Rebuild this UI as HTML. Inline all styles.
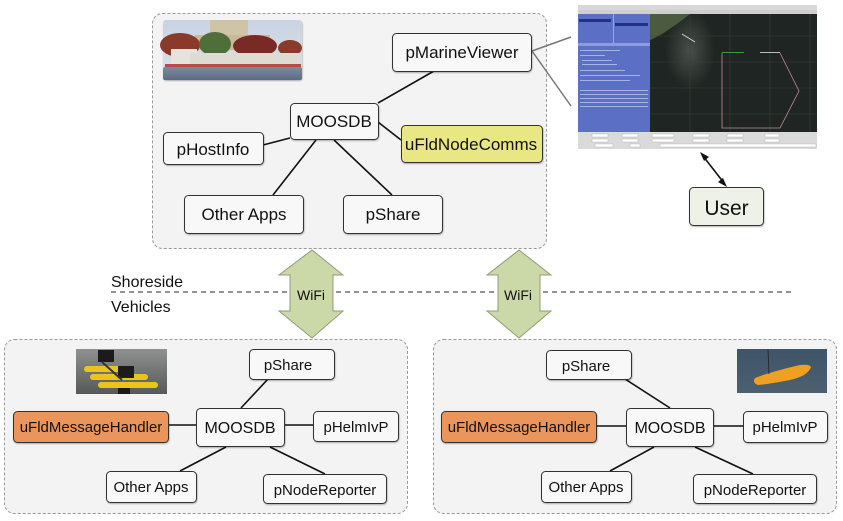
<!DOCTYPE html>
<html><head><meta charset="utf-8"><style>
html,body{margin:0;padding:0;background:#fff;}
svg{display:block;}
text{font-family:"Liberation Sans","DejaVu Sans",sans-serif;fill:#111;}
</style></head><body>
<svg width="843" height="521" viewBox="0 0 843 521" xmlns="http://www.w3.org/2000/svg">
<defs>
<filter id="sh" x="-10%" y="-10%" width="130%" height="140%"><feDropShadow dx="0.5" dy="1" stdDeviation="0.8" flood-color="#000" flood-opacity="0.3"/></filter>
<linearGradient id="sky" x1="0" y1="0" x2="0" y2="1"><stop offset="0" stop-color="#c9d3e2"/><stop offset="1" stop-color="#dde2ea"/></linearGradient>
<linearGradient id="water" x1="0" y1="0" x2="0" y2="1"><stop offset="0" stop-color="#7d8aa0"/><stop offset="1" stop-color="#5d6c86"/></linearGradient>
<linearGradient id="gw" x1="0" y1="0" x2="0" y2="1"><stop offset="0" stop-color="#8f9191"/><stop offset="1" stop-color="#575959"/></linearGradient>
<linearGradient id="bw" x1="0" y1="0" x2="0" y2="1"><stop offset="0" stop-color="#3e5468"/><stop offset="1" stop-color="#4c6070"/></linearGradient>
<radialGradient id="haze" cx="0.5" cy="0.5" r="0.5"><stop offset="0" stop-color="#5a625c" stop-opacity="0.7"/><stop offset="1" stop-color="#5a625c" stop-opacity="0"/></radialGradient>
</defs>

<!-- group boxes -->
<rect x="152.5" y="13.5" width="394" height="235" rx="10" fill="#f3f3f3" stroke="#999" stroke-dasharray="3,2"/>
<rect x="4.5" y="339.5" width="403" height="174" rx="10" fill="#f3f3f3" stroke="#999" stroke-dasharray="3,2"/>
<rect x="433.5" y="339.5" width="403" height="174" rx="10" fill="#f3f3f3" stroke="#999" stroke-dasharray="3,2"/>

<!-- top photo -->
<g filter="url(#sh)">
<rect x="163" y="20" width="139" height="60" rx="3" fill="url(#sky)"/>
</g>
<rect x="210" y="20" width="38" height="20" fill="#cfc3a8"/>
<rect x="195" y="35" width="75" height="15" fill="#c6b99c"/>
<ellipse cx="180" cy="45" rx="20" ry="12" fill="#8a3a2a"/>
<ellipse cx="215" cy="44" rx="16" ry="12" fill="#4f6e3a"/>
<ellipse cx="255" cy="46" rx="22" ry="11" fill="#7a2a24"/>
<ellipse cx="290" cy="48" rx="12" ry="8" fill="#8a3a2a"/>
<rect x="171" y="49" width="26" height="18" fill="#e5e3dc"/>
<rect x="190" y="53" width="110" height="13" fill="#dedbd2"/>
<rect x="165" y="64" width="136" height="3" fill="#b84a4a"/>
<rect x="163" y="67" width="139" height="13" rx="2" fill="url(#water)"/>

<!-- connectors top -->
<g stroke="#111" stroke-width="1.6" fill="none">
<line x1="434" y1="71" x2="378" y2="103"/>
<line x1="290" y1="138" x2="263" y2="145"/>
<line x1="378" y1="122" x2="401" y2="140"/>
<line x1="316" y1="140" x2="273" y2="195"/>
<line x1="334" y1="140" x2="392" y2="195"/>
</g>
<g stroke="#777" stroke-width="1.5">
<line x1="532" y1="51" x2="571" y2="37"/>
<line x1="532" y1="51" x2="571" y2="106"/>
</g>

<!-- top nodes -->
<g filter="url(#sh)" stroke="#333" stroke-width="1">
<rect x="392.5" y="33.5" width="139" height="38" rx="4" fill="#f8f8f8"/>
<rect x="290.5" y="103.5" width="88" height="36" rx="4" fill="#f8f8f8"/>
<rect x="163.5" y="132.5" width="100" height="32" rx="4" fill="#f8f8f8"/>
<rect x="401.5" y="125.5" width="141" height="37" rx="4" fill="#e8e784"/>
<rect x="184.5" y="195.5" width="119" height="38" rx="4" fill="#f8f8f8"/>
<rect x="343.5" y="195.5" width="99" height="38" rx="4" fill="#f8f8f8"/>
</g>
<g font-size="17" text-anchor="middle">
<text x="462" y="58">pMarineViewer</text>
<text x="334" y="127">MOOSDB</text>
<text x="213" y="155">pHostInfo</text>
<text x="471" y="150">uFldNodeComms</text>
<text x="244" y="220">Other Apps</text>
<text x="393" y="220">pShare</text>
</g>

<!-- screenshot -->
<g>
<rect x="578" y="5" width="239" height="144" fill="#e4e4e4"/>
<rect x="578" y="5" width="239" height="5" fill="#d8d8d8"/>
<rect x="578" y="10" width="239" height="4" fill="#cfcfcf"/>
<rect x="578" y="14" width="72" height="118" fill="#5b6fc4"/>
<rect x="578" y="43" width="72" height="3" fill="#8d9be0"/>
<rect x="613" y="14" width="1" height="29" fill="#9aa6e4"/>
<rect x="579" y="19" width="32" height="3" fill="#22308a"/>
<rect x="615" y="23" width="33" height="3" fill="#22308a"/>
<g fill="#c9d0f2" opacity="0.7">
<rect x="580" y="50" width="40" height="1"/><rect x="580" y="55" width="25" height="1"/><rect x="582" y="60" width="30" height="1"/>
<rect x="582" y="64" width="35" height="1"/><rect x="580" y="70" width="45" height="1"/><rect x="580" y="75" width="60" height="1"/>
<rect x="580" y="80" width="50" height="1"/><rect x="580" y="90" width="68" height="1"/><rect x="580" y="94" width="68" height="1"/>
<rect x="580" y="98" width="68" height="1"/><rect x="580" y="102" width="68" height="1"/><rect x="580" y="106" width="68" height="1"/>
</g>
<rect x="650" y="14" width="167" height="118" fill="#1f2522"/>
<ellipse cx="690" cy="50" rx="25" ry="40" fill="url(#haze)"/>
<path d="M650 14 L690 14 Q680 22 668 30 Q660 36 650 40 Z" fill="#4c5a40"/>
<g stroke="#3a423e" stroke-width="0.6">
<line x1="650" y1="36" x2="817" y2="36"/><line x1="650" y1="62" x2="817" y2="62"/><line x1="650" y1="88" x2="817" y2="88"/><line x1="650" y1="114" x2="817" y2="114"/>
<line x1="690" y1="14" x2="690" y2="132"/><line x1="730" y1="14" x2="730" y2="132"/><line x1="770" y1="14" x2="770" y2="132"/><line x1="810" y1="14" x2="810" y2="132"/>
</g>
<polyline points="722,53 722,128 780,128 799,91 780,53" fill="none" stroke="#c98a9a" stroke-width="0.8"/>
<line x1="682" y1="34" x2="695" y2="42" stroke="#ddd" stroke-width="0.8"/>
<rect x="722" y="52" width="22" height="1" fill="#3c9a3c"/>
<rect x="760" y="52" width="20" height="1" fill="#bbb"/>
<rect x="578" y="132" width="239" height="17" fill="#dadada"/>
<g fill="#fff" stroke="#aaa" stroke-width="0.4">
<rect x="592" y="134" width="16" height="3"/><rect x="622" y="134" width="16" height="3"/><rect x="652" y="134" width="22" height="3"/><rect x="693" y="134" width="16" height="3"/><rect x="727" y="134" width="16" height="3"/><rect x="765" y="134" width="14" height="3"/>
<rect x="592" y="139" width="16" height="3"/><rect x="622" y="139" width="16" height="3"/><rect x="652" y="139" width="22" height="3"/><rect x="693" y="139" width="16" height="3"/><rect x="727" y="139" width="16" height="3"/><rect x="765" y="139" width="14" height="3"/>
<rect x="595" y="144" width="18" height="3"/><rect x="630" y="144" width="10" height="3"/><rect x="660" y="144" width="156" height="3"/>
</g>
</g>

<!-- user -->
<g stroke="#111" stroke-width="1.6" fill="#111">
<line x1="703" y1="156" x2="724" y2="183"/>
<polygon points="700,152 709,157 704,161" stroke="none"/>
<polygon points="727,187 718,182 723,178" stroke="none"/>
</g>
<rect x="689.5" y="187.5" width="74" height="38" rx="4" fill="#eef1e7" stroke="#333" filter="url(#sh)"/>
<text x="726.5" y="215" font-size="21" text-anchor="middle">User</text>

<!-- divider -->
<line x1="111" y1="292" x2="795" y2="292" stroke="#555" stroke-width="1.2" stroke-dasharray="5,4"/>
<text x="111" y="287" font-size="16">Shoreside</text>
<text x="111" y="312" font-size="16">Vehicles</text>

<!-- wifi arrows -->
<g fill="#cbd9a9" stroke="#8f9c78" stroke-width="1">
<polygon points="312,250 343,275 333,275 333,311 343,311 312,338 279,311 290,311 290,275 279,275"/>
<polygon points="519,250 551,275 540,275 540,311 551,311 519,338 487,311 498,311 498,275 487,275"/>
</g>
<text x="311" y="300" font-size="14" text-anchor="middle">WiFi</text>
<text x="518" y="300" font-size="14" text-anchor="middle">WiFi</text>

<!-- bottom-left photo -->
<rect x="76" y="349" width="91" height="45" fill="url(#gw)"/>
<g fill="#e8c41c">
<rect x="84" y="366" width="50" height="6" rx="3"/>
<rect x="90" y="374" width="58" height="6" rx="3"/>
<rect x="98" y="382" width="60" height="6" rx="3"/>
</g>
<rect x="98" y="350" width="16" height="12" fill="#1b1b1b"/>
<rect x="118" y="366" width="16" height="12" fill="#1b1b1b"/>
<rect x="118" y="388" width="12" height="6" fill="#1b1b1b"/>
<line x1="102" y1="362" x2="122" y2="380" stroke="#333" stroke-width="2"/>

<!-- bottom-right photo -->
<rect x="737" y="349" width="90" height="44" fill="url(#bw)"/>
<path d="M755 378 Q770 372 800 365 Q810 364 811 367 Q808 376 790 380 Q770 384 758 385 Q752 383 755 378 Z" fill="#f0a020"/>
<line x1="768" y1="349" x2="769" y2="374" stroke="#222" stroke-width="0.8"/>

<!-- bottom-left connectors -->
<g stroke="#111" stroke-width="1.6">
<line x1="241" y1="408" x2="268" y2="379"/>
<line x1="168" y1="425" x2="196" y2="425"/>
<line x1="284" y1="425" x2="313" y2="425"/>
<line x1="226" y1="447" x2="180" y2="471"/>
<line x1="270" y1="447" x2="325" y2="474"/>
</g>
<!-- bottom-right connectors -->
<g stroke="#111" stroke-width="1.6">
<line x1="670" y1="408" x2="625" y2="379"/>
<line x1="596" y1="426" x2="626" y2="426"/>
<line x1="713" y1="426" x2="743" y2="426"/>
<line x1="654" y1="447" x2="610" y2="471"/>
<line x1="695" y1="447" x2="753" y2="474"/>
</g>

<!-- bottom-left nodes -->
<g filter="url(#sh)" stroke="#333" stroke-width="1">
<rect x="249.5" y="349.5" width="85" height="30" rx="4" fill="#f8f8f8"/>
<rect x="13.5" y="411.5" width="155" height="31" rx="4" fill="#e9955c"/>
<rect x="196.5" y="408.5" width="88" height="38" rx="4" fill="#f8f8f8"/>
<rect x="313.5" y="411.5" width="85" height="30" rx="4" fill="#f8f8f8"/>
<rect x="106.5" y="471.5" width="90" height="31" rx="4" fill="#f8f8f8"/>
<rect x="263.5" y="474.5" width="123" height="29" rx="4" fill="#f8f8f8"/>
</g>
<g font-size="15" text-anchor="middle">
<text x="288" y="370">pShare</text>
<text x="91" y="432">uFldMessageHandler</text>
<text x="240" y="433" font-size="16">MOOSDB</text>
<text x="356" y="432">pHelmIvP</text>
<text x="151" y="492">Other Apps</text>
<text x="325" y="495">pNodeReporter</text>
</g>

<!-- bottom-right nodes -->
<g filter="url(#sh)" stroke="#333" stroke-width="1">
<rect x="546.5" y="350.5" width="85" height="29" rx="4" fill="#f8f8f8"/>
<rect x="441.5" y="411.5" width="155" height="31" rx="4" fill="#e9955c"/>
<rect x="626.5" y="408.5" width="87" height="38" rx="4" fill="#f8f8f8"/>
<rect x="743.5" y="411.5" width="84" height="31" rx="4" fill="#f8f8f8"/>
<rect x="541.5" y="471.5" width="90" height="31" rx="4" fill="#f8f8f8"/>
<rect x="693.5" y="474.5" width="123" height="29" rx="4" fill="#f8f8f8"/>
</g>
<g font-size="15" text-anchor="middle">
<text x="586" y="371">pShare</text>
<text x="519" y="432">uFldMessageHandler</text>
<text x="670" y="433" font-size="16">MOOSDB</text>
<text x="785" y="432">pHelmIvP</text>
<text x="586" y="492">Other Apps</text>
<text x="755" y="495">pNodeReporter</text>
</g>
</svg>
</body></html>
